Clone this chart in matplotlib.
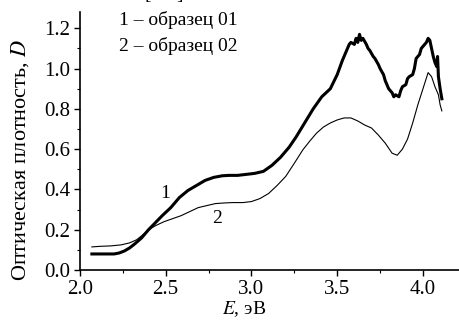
import matplotlib
matplotlib.use("Agg")
import matplotlib.pyplot as plt
from matplotlib.ticker import MultipleLocator

plt.rcParams['font.family'] = ['Liberation Serif', 'DejaVu Serif']
plt.rcParams['mathtext.fontset'] = 'stix'

# образец 01 (толстая кривая)
E1 = [2.07, 2.10, 2.15, 2.20, 2.23, 2.26, 2.29, 2.32, 2.36, 2.40, 2.44, 2.48,
      2.53, 2.58, 2.63, 2.68, 2.73, 2.78, 2.83, 2.87, 2.92, 2.97, 3.02, 3.07,
      3.12, 3.17, 3.22, 3.26, 3.31, 3.36, 3.41, 3.46, 3.50, 3.53, 3.55, 3.57,
      3.58, 3.60, 3.61, 3.62, 3.63, 3.64, 3.65, 3.67, 3.68, 3.69, 3.71, 3.72,
      3.74, 3.75, 3.77, 3.78, 3.80, 3.82, 3.83, 3.84, 3.86, 3.87, 3.88, 3.90,
      3.91, 3.92, 3.94, 3.95, 3.96, 3.98, 3.99, 4.00, 4.02, 4.03, 4.04, 4.05,
      4.06, 4.07, 4.08, 4.085, 4.09, 4.10, 4.11]
D1 = [0.08, 0.08, 0.08, 0.08, 0.085, 0.095, 0.11, 0.13, 0.16, 0.20, 0.235, 0.27,
      0.31, 0.36, 0.395, 0.42, 0.445, 0.46, 0.468, 0.47, 0.47, 0.475, 0.48, 0.49,
      0.52, 0.56, 0.61, 0.66, 0.73, 0.80, 0.86, 0.90, 0.97, 1.04, 1.08, 1.12,
      1.13, 1.12, 1.15, 1.13, 1.17, 1.14, 1.15, 1.12, 1.10, 1.09, 1.06, 1.05,
      1.02, 1.00, 0.97, 0.94, 0.90, 0.88, 0.86, 0.87, 0.86, 0.89, 0.91, 0.92,
      0.95, 0.96, 0.97, 1.00, 1.05, 1.07, 1.10, 1.11, 1.13, 1.15, 1.14, 1.10,
      1.06, 1.03, 1.01, 1.06, 0.96, 0.90, 0.85]

# образец 02 (тонкая кривая)
E2 = [2.07, 2.12, 2.18, 2.24, 2.29, 2.33, 2.36, 2.40, 2.44, 2.49, 2.54, 2.59,
      2.64, 2.69, 2.74, 2.79, 2.84, 2.89, 2.95, 3.00, 3.05, 3.10, 3.15, 3.20,
      3.25, 3.30, 3.34, 3.38, 3.42, 3.46, 3.50, 3.54, 3.58, 3.62, 3.66, 3.70,
      3.74, 3.78, 3.82, 3.85, 3.88, 3.91, 3.94, 3.97, 4.00, 4.03, 4.05, 4.07,
      4.09, 4.10, 4.11]
D2 = [0.115, 0.118, 0.12, 0.125, 0.135, 0.15, 0.17, 0.20, 0.22, 0.24, 0.255, 0.27,
      0.29, 0.31, 0.32, 0.33, 0.333, 0.335, 0.335, 0.34, 0.355, 0.38, 0.42, 0.465,
      0.53, 0.597, 0.64, 0.68, 0.71, 0.73, 0.745, 0.755, 0.755, 0.74, 0.72, 0.705,
      0.67, 0.63, 0.58, 0.57, 0.60, 0.65, 0.73, 0.82, 0.90, 0.98, 0.96, 0.91,
      0.87, 0.82, 0.79]

legend_lines = ["1 – образец 01", "2 – образец 02"]

fig = plt.figure(figsize=(4.59, 3.2), dpi=100)
ax = fig.add_axes([0.174, 0.156, 0.826, 0.806])

ax.plot(E1, D1, color='black', linewidth=2.2)
ax.plot(E2, D2, color='black', linewidth=0.8)

ax.text(2.50, 0.38, "1", fontsize=14, ha='center', va='center')
ax.text(2.80, 0.255, "2", fontsize=14, ha='center', va='center')
ax.text(2.23, 1.24, legend_lines[0], fontsize=14, va='center')
ax.text(2.23, 1.11, legend_lines[1], fontsize=14, va='center')

# обрезанная ссылка над графиком
fig.text(145 / 459, 1 + 1 / 320, "[", fontsize=14, va='baseline')
fig.text(176 / 459, 1 + 1 / 320, "]", fontsize=14, va='baseline')

ax.set_xlim(2.0, 4.21)
ax.set_ylim(0.0, 1.28)
ax.xaxis.set_major_locator(MultipleLocator(0.5))
ax.xaxis.set_minor_locator(MultipleLocator(0.25))
ax.yaxis.set_major_locator(MultipleLocator(0.2))
ax.yaxis.set_minor_locator(MultipleLocator(0.1))
ax.yaxis.set_major_formatter(plt.FormatStrFormatter('%.1f'))

for side in ('top', 'right'):
    ax.spines[side].set_visible(False)
for side in ('left', 'bottom'):
    ax.spines[side].set_linewidth(1.2)

ax.tick_params(which='major', direction='out', length=4, width=1, labelsize=15, pad=3)
ax.tick_params(which='minor', direction='out', length=2, width=0.8)

ax.set_xlabel(r"$E$, эВ", fontsize=14)
ax.set_ylabel(r"Оптическая плотность, $D$", fontsize=16)
ax.xaxis.set_label_coords((244 - 80) / 379, -(309 - 270) / 258)
ax.yaxis.set_label_coords(-(80 - 20) / 379, (270 - 160) / 258)
ax.xaxis.label.set_va('center')
ax.yaxis.label.set_va('center')

fig.savefig("out.png", dpi=100)
